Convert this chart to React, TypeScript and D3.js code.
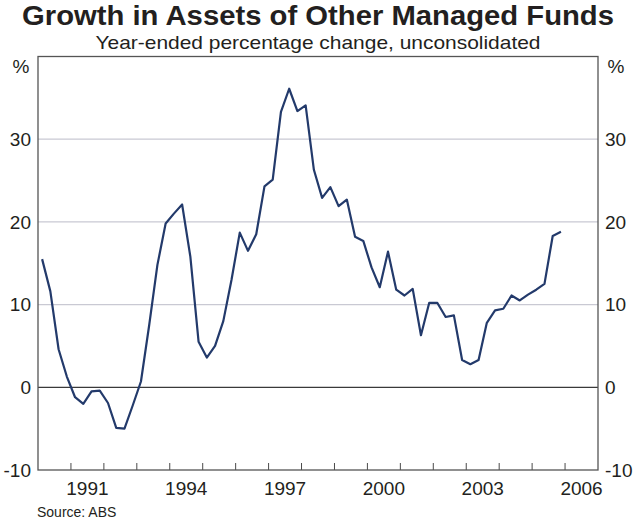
import * as d3 from 'd3';

// quarterly, year-ended % change, first point 1990 Q1
const startYear = 1990;
const growth = [
  15.5, 11.6, 4.6, 1.3, -1.2, -2.0, -0.5, -0.4,
  -1.9, -4.9, -5.0, -2.2, 0.7, 7.5, 14.8, 19.8,
  21.0, 22.1, 15.8, 5.5, 3.6, 5.0, 8.0, 13.0,
  18.7, 16.5, 18.5, 24.3, 25.1, 33.3, 36.1, 33.4,
  34.1, 26.3, 22.9, 24.2, 21.9, 22.7, 18.2, 17.7,
  14.5, 12.1, 16.4, 11.8, 11.1, 11.9, 6.3, 10.2,
  10.2, 8.5, 8.7, 3.3, 2.8, 3.3, 7.8, 9.3,
  9.5, 11.1, 10.5, 11.2, 11.8, 12.5, 18.3, 18.8,
];
const yTicks = [-10, 0, 10, 20, 30];
const yGrid = [10, 20, 30];
const xLabels = [1991, 1994, 1997, 2000, 2003, 2006];
const xDomain = [1990, 2007];
const yDomain = [-10, 40];

const W = 636;
const H = 519;
const m = { left: 38, right: 598, top: 56.5, bottom: 470 };
const font = 'Arial, "Liberation Sans", sans-serif';

export default function App() {
  const x = d3.scaleLinear().domain(xDomain).range([m.left, m.right]);
  const y = d3.scaleLinear().domain(yDomain).range([m.bottom, m.top]);

  const pts = growth.map((v, i) => ({ t: startYear + (i + 0.5) / 4, v }));
  const line = d3.line<{ t: number; v: number }>()
    .x((d) => x(d.t))
    .y((d) => y(d.v));

  const yearTicks = d3.range(xDomain[0] + 1, xDomain[1]);

  return (
    <svg width={W} height={H} style={{ position: 'absolute', left: 0, top: 0 }} fontFamily={font}>
      <rect width={W} height={H} fill="#fff" />
      <text x={318} y={25} textAnchor="middle" fontSize={28.5} fontWeight="bold" fill="#231f20"
        textLength={592} lengthAdjust="spacingAndGlyphs">
        Growth in Assets of Other Managed Funds
      </text>
      <text x={318} y={48.5} textAnchor="middle" fontSize={18.5} fill="#231f20"
        textLength={445} lengthAdjust="spacingAndGlyphs">
        Year-ended percentage change, unconsolidated
      </text>

      {yGrid.map((v) => (
        <line key={v} x1={m.left} x2={m.right} y1={y(v)} y2={y(v)} stroke="#c9c9d3" strokeWidth={1.2} />
      ))}
      <line x1={m.left} x2={m.right} y1={y(0)} y2={y(0)} stroke="#3a3a3a" strokeWidth={1.2} />

      {yearTicks.map((t) => (
        <line key={t} x1={x(t)} x2={x(t)} y1={m.bottom} y2={m.bottom - 7} stroke="#4a4a4a" strokeWidth={1} />
      ))}

      <rect x={m.left} y={m.top} width={m.right - m.left} height={m.bottom - m.top}
        fill="none" stroke="#555" strokeWidth={1.3} />

      <path d={line(pts) || ''} fill="none" stroke="#233a6b" strokeWidth={2.2} strokeLinejoin="round" />

      {yTicks.map((v) => (
        <g key={v} fontSize={19} fill="#231f20">
          <text x={31} y={y(v)} dy="0.36em" textAnchor="end">{v}</text>
          <text x={605} y={y(v)} dy="0.36em" textAnchor="start">{v}</text>
        </g>
      ))}
      <text x={21} y={y(40) + 16} textAnchor="middle" fontSize={19} fill="#231f20">%</text>
      <text x={616} y={y(40) + 16} textAnchor="middle" fontSize={19} fill="#231f20">%</text>

      {xLabels.map((yr) => (
        <text key={yr} x={x(yr + 0.5)} y={495} textAnchor="middle" fontSize={19} fill="#231f20">{yr}</text>
      ))}

      <text x={37} y={517} fontSize={14} fill="#231f20">Source: ABS</text>
    </svg>
  );
}
